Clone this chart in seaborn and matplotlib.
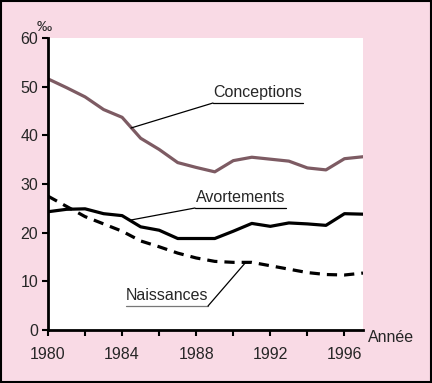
import pandas as pd
import matplotlib
matplotlib.use("Agg")
import matplotlib.pyplot as plt
import seaborn as sns

years = list(range(1980, 1998))
conceptions = [51.6, 49.8, 47.9, 45.3, 43.7, 39.4, 37.1, 34.4, 33.4, 32.5,
               34.8, 35.5, 35.1, 34.7, 33.3, 32.9, 35.2, 35.6]
avortements = [24.3, 24.8, 24.9, 23.9, 23.5, 21.2, 20.5, 18.8, 18.8, 18.8,
               20.3, 21.9, 21.3, 22.0, 21.8, 21.5, 23.9, 23.8]
naissances = [27.5, 25.4, 23.3, 21.8, 20.3, 18.3, 17.1, 15.8, 14.8, 14.1,
              13.9, 13.9, 13.2, 12.5, 11.8, 11.4, 11.3, 11.7]
x_ticks = list(range(1980, 1998, 2))
x_labels = ["1980", "", "1984", "", "1988", "", "1992", "", "1996"]
y_ticks = [0, 10, 20, 30, 40, 50, 60]

sns.set_style("ticks")
plt.rcParams["font.family"] = ["Liberation Sans", "DejaVu Sans"]

pink = "#F9DAE5"
df = pd.DataFrame({"year": years, "Conceptions": conceptions,
                   "Avortements": avortements, "Naissances": naissances})

fig = plt.figure(figsize=(4.32, 3.83), dpi=100, facecolor=pink)
ax = fig.add_axes([48 / 432, 1 - 330 / 383, (363 - 48) / 432, (330 - 38) / 383])
ax.set_facecolor("white")

sns.lineplot(data=df, x="year", y="Conceptions", ax=ax, color="#7D5B63", lw=2.3)
sns.lineplot(data=df, x="year", y="Avortements", ax=ax, color="black", lw=2.3)
sns.lineplot(data=df, x="year", y="Naissances", ax=ax, color="black", lw=2.3,
             linestyle=(0, (3.2, 2.2)))

ax.set_xlim(1980, 1997)
ax.set_ylim(0, 60)
ax.set_xticks(x_ticks)
ax.set_xticklabels(x_labels)
ax.set_yticks(y_ticks)
ax.set_xlabel("")
ax.set_ylabel("")
ax.tick_params(axis="both", labelsize=11.5, width=1.5, length=4, color="black")
ax.tick_params(axis="x", pad=8)
ax.tick_params(axis="y", pad=3)
sns.despine(ax=ax)
for s in ["left", "bottom"]:
    ax.spines[s].set_linewidth(2)
    ax.spines[s].set_color("black")

# labels with underline and leader lines (pixel coords from figure top-left)
W, H = 432, 383
def fx(x):
    return x / W
def fy(y):
    return 1 - y / H

def label(text, x0, x1, yline, tip, color="black"):
    fig.text(fx((x0 + x1) / 2), fy(yline - 3), text, ha="center", va="bottom", fontsize=11.5)
    fig.add_artist(plt.Line2D([fx(x0), fx(x1)], [fy(yline), fy(yline)], color=color, lw=0.9))
    fig.add_artist(plt.Line2D([fx(x0 if tip[0] < x0 else x1), fx(tip[0])],
                              [fy(yline), fy(tip[1])], color="black", lw=0.9))

label("Conceptions", 213, 303, 103, (131, 128))
label("Avortements", 195, 286, 208, (131, 220))
label("Naissances", 126, 208, 306, (246, 262), color="#777777")

fig.text(fx(44), fy(27), "‰", ha="center", va="center", fontsize=11)
fig.text(fx(368), fy(337), "Année", ha="left", va="center", fontsize=11.5)

# outer frame
fig.add_artist(plt.Rectangle((0.002, 0.002), 0.996, 0.996, transform=fig.transFigure,
                             fill=False, edgecolor="black", lw=1.5))

fig.savefig("out.png", dpi=100, facecolor=pink)
